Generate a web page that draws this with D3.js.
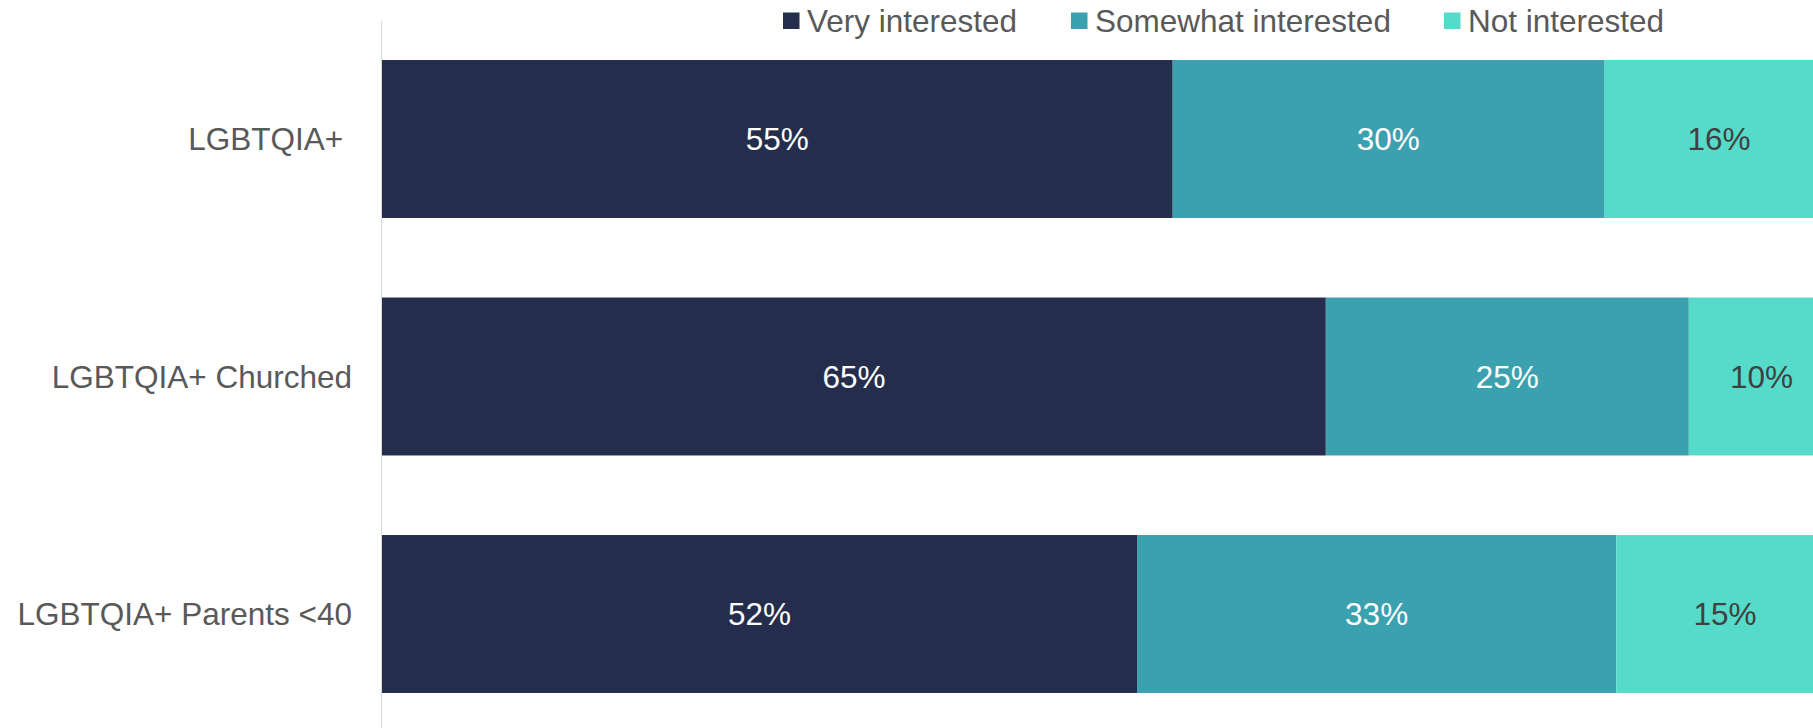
<!DOCTYPE html>
<html>
<head>
<meta charset="utf-8">
<script src="https://cdn.jsdelivr.net/npm/d3@7"></script>
<style>
  html, body { margin: 0; padding: 0; background: #ffffff; }
  svg { display: block; }
  text { font-family: "Liberation Sans", Arial, sans-serif; }
</style>
</head>
<body>
<div id="chart"></div>
<script>
// ---- data ----
const categories = ["LGBTQIA+ ", "LGBTQIA+ Churched", "LGBTQIA+ Parents <40"];
const seriesNames = ["Very interested", "Somewhat interested", "Not interested"];
const veryInterested = [55, 65, 52];
const somewhatInterested = [30, 25, 33];
const notInterested = [16, 10, 15];
const seriesColors = ["#242e4c", "#3ba1af", "#56dbcb"];
const labelColors = ["#ffffff", "#ffffff", "#404040"];

// ---- layout ----
const W = 1813, H = 728;
const fontSize = 31.5;
const svg = d3.select("#chart").append("svg").attr("width", W).attr("height", H);

// 100% stacked: each row normalised to its total; plot area extends past the right edge
const x = d3.scaleLinear().domain([0, 1]).range([382, 1834]);
const y = d3.scaleBand().domain(categories).range([24.4, 728.6]).paddingInner(0.335).paddingOuter(0.15);

const keys = ["0", "1", "2"];
const stackData = categories.map((c, i) => ({ cat: c, "0": veryInterested[i], "1": somewhatInterested[i], "2": notInterested[i] }));
const layers = d3.stack().keys(keys).offset(d3.stackOffsetExpand)(stackData);

// axis line
svg.append("line")
  .attr("x1", 381.5).attr("x2", 381.5)
  .attr("y1", 21).attr("y2", H)
  .attr("stroke", "#d9d9d9").attr("stroke-width", 1);

// bars
const g = svg.append("g");
layers.forEach((layer, si) => {
  const key = layer.key;
  g.selectAll(null).data(layer).enter().append("rect")
    .attr("x", d => x(d[0]))
    .attr("y", d => y(d.data.cat))
    .attr("width", d => x(d[1]) - x(d[0]))
    .attr("height", y.bandwidth())
    .attr("fill", seriesColors[si]);
  g.selectAll(null).data(layer).enter().append("text")
    .attr("x", d => (x(d[0]) + x(d[1])) / 2)
    .attr("y", d => y(d.data.cat) + y.bandwidth() / 2)
    .attr("dy", "0.35em")
    .attr("text-anchor", "middle")
    .attr("font-size", fontSize)
    .attr("fill", labelColors[si])
    .text(d => d.data[key] + "%");
});

// category labels
svg.append("g").selectAll("text").data(categories).enter().append("text")
  .attr("x", 352)
  .attr("y", d => y(d) + y.bandwidth() / 2)
  .attr("dy", "0.35em")
  .attr("text-anchor", "end")
  .attr("font-size", fontSize)
  .attr("fill", "#595959")
  .style("white-space", "pre")
  .text(d => d);

// legend
const legendX = [783, 1071, 1444];
const lg = svg.append("g");
seriesNames.forEach((name, i) => {
  lg.append("rect")
    .attr("x", legendX[i]).attr("y", 12.5)
    .attr("width", 16.5).attr("height", 16.5)
    .attr("fill", seriesColors[i]);
  lg.append("text")
    .attr("x", legendX[i] + 24)
    .attr("y", 31.5)
    .attr("font-size", fontSize)
    .attr("fill", "#595959")
    .text(name);
});
</script>
</body>
</html>
